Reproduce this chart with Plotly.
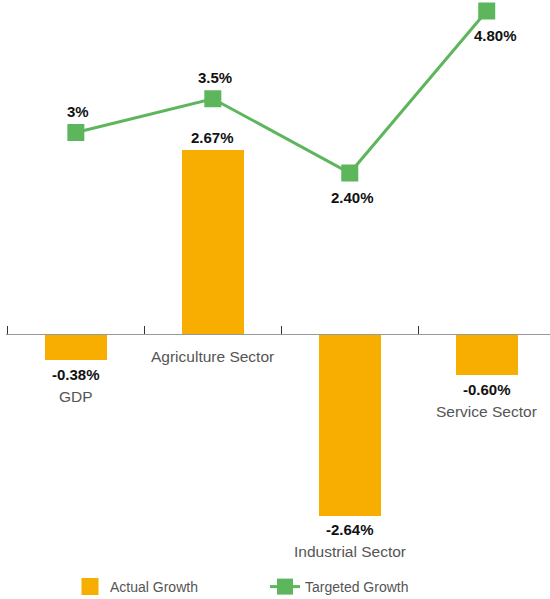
import plotly.graph_objects as go

# --- data ---------------------------------------------------------------
categories = ["GDP", "Agriculture Sector", "Industrial Sector", "Service Sector"]
actual_growth = [-0.38, 2.67, -2.64, -0.60]
targeted_growth = [3.0, 3.5, 2.4, 4.8]
actual_labels = ["-0.38%", "2.67%", "-2.64%", "-0.60%"]
target_labels = ["3%", "3.5%", "2.40%", "4.80%"]

# --- styling ------------------------------------------------------------
ORANGE = "#F7AE00"
GREEN = "#5DB65C"
FONT = "Liberation Sans, Arial, Helvetica, sans-serif"
VALUE_COLOR = "#111111"
CAT_COLOR = "#555555"

W, H = 550, 599
ML, MR, MT, MB = 6, 0, 0, 39
PLOT_H = H - MT - MB

# bar axis: zero line 334px from top, ~68.8 px per percent
Y_ZERO_PX, Y_SCALE = 334, 68.8
y_range = [-(PLOT_H - Y_ZERO_PX) / Y_SCALE, Y_ZERO_PX / Y_SCALE]
# target-line axis: zero 335px from top, 67.5 px per percent
Y2_ZERO_PX, Y2_SCALE = 335, 67.5
y2_range = [-(PLOT_H - Y2_ZERO_PX) / Y2_SCALE, Y2_ZERO_PX / Y2_SCALE]

x_axis_pos = (0 - y_range[0]) / (y_range[1] - y_range[0])

# which side of the marker the target label sits on, and nudges (px)
target_side = ["above", "above", "below", "below"]
target_xshift = [2, 2, 3, 9]

fig = go.Figure()

# actual growth bars (legend entry drawn by the key-only trace below)
fig.add_trace(go.Bar(
    x=categories, y=actual_growth, name="Actual Growth",
    marker=dict(color=ORANGE, line=dict(width=0)),
    width=0.45, cliponaxis=False, hoverinfo="skip", showlegend=False,
))
# key-only trace: thicker outline gives a larger legend swatch
fig.add_trace(go.Bar(
    x=[categories[0]], y=[None], name="Actual Growth",
    marker=dict(color=ORANGE, line=dict(width=5, color=ORANGE)),
    hoverinfo="skip", showlegend=True,
))

fig.add_trace(go.Scatter(
    x=categories, y=targeted_growth, name="Targeted Growth", yaxis="y2",
    mode="lines+markers",
    line=dict(color=GREEN, width=3),
    marker=dict(symbol="square", size=17, color=GREEN),
    cliponaxis=False, hoverinfo="skip",
))

annotations = []
for cat, val, lab in zip(categories, actual_growth, actual_labels):
    if val >= 0:
        annotations.append(dict(x=cat, y=val, xref="x", yref="y", text=f"<b>{lab}</b>",
                                yshift=13, showarrow=False,
                                font=dict(size=15, color=VALUE_COLOR, family=FONT)))
        annotations.append(dict(x=cat, y=0, xref="x", yref="y", text=cat,
                                yshift=-22, showarrow=False,
                                font=dict(size=15.5, color=CAT_COLOR, family=FONT)))
    else:
        annotations.append(dict(x=cat, y=val, xref="x", yref="y", text=f"<b>{lab}</b>",
                                yshift=-14, showarrow=False,
                                font=dict(size=15, color=VALUE_COLOR, family=FONT)))
        annotations.append(dict(x=cat, y=val, xref="x", yref="y", text=cat,
                                yshift=-36, showarrow=False,
                                font=dict(size=15.5, color=CAT_COLOR, family=FONT)))

for cat, val, lab, side, dx in zip(categories, targeted_growth, target_labels,
                                   target_side, target_xshift):
    annotations.append(dict(x=cat, y=val, xref="x", yref="y2", text=f"<b>{lab}</b>",
                            yshift=21 if side == "above" else -24, xshift=dx,
                            showarrow=False,
                            font=dict(size=15, color=VALUE_COLOR, family=FONT)))

fig.update_layout(
    width=W, height=H,
    margin=dict(l=ML, r=MR, t=MT, b=MB, pad=0),
    paper_bgcolor="white", plot_bgcolor="white",
    font=dict(family=FONT, color=CAT_COLOR),
    showlegend=True,
    barmode="overlay",
    legend=dict(
        orientation="h", xref="container", yref="container",
        x=70 / W, y=1 - 587 / H, xanchor="left", yanchor="middle",
        bgcolor="rgba(0,0,0,0)", borderwidth=0,
        font=dict(size=14, color=CAT_COLOR, family=FONT),
        entrywidth=150, entrywidthmode="pixels",
        traceorder="normal",
    ),
    xaxis=dict(
        type="category", range=[-0.51, 3.462],
        anchor="free", position=x_axis_pos,
        showline=True, linecolor="#999999", linewidth=1,
        ticks="inside", tickson="boundaries", ticklen=8, tickcolor="#333333",
        tickwidth=1, showticklabels=False, showgrid=False, zeroline=False,
        fixedrange=True,
    ),
    yaxis=dict(range=y_range, visible=False, showgrid=False, zeroline=False),
    yaxis2=dict(range=y2_range, overlaying="y", visible=False,
                showgrid=False, zeroline=False),
    annotations=annotations,
    bargap=0,
)

fig.write_html("out.html")
